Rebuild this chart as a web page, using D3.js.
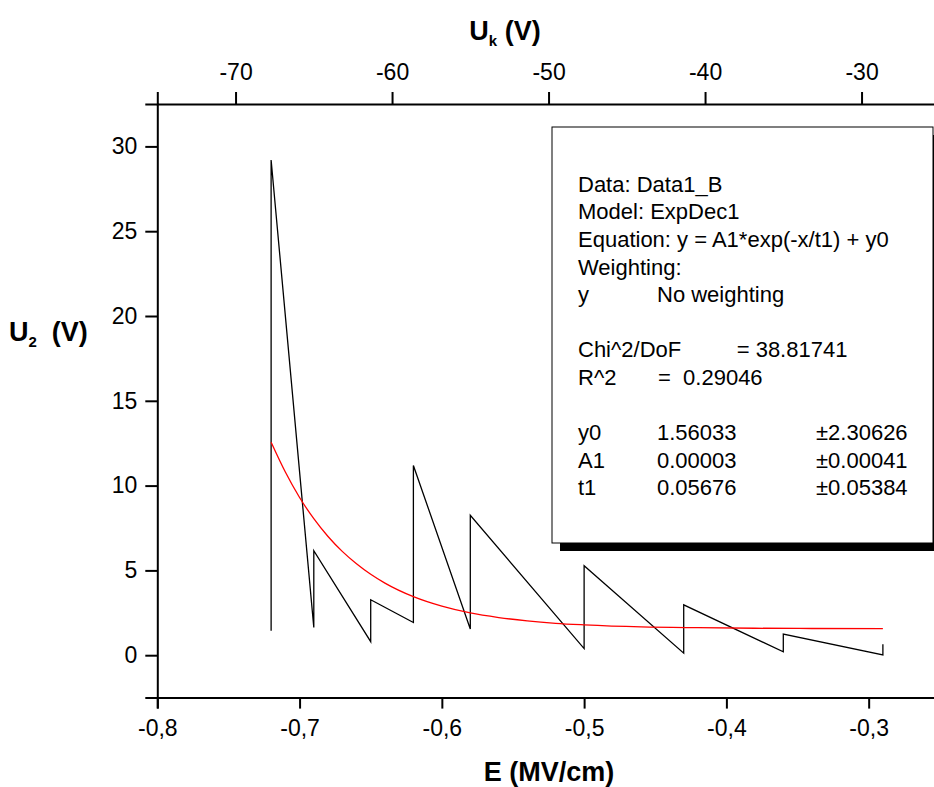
<!DOCTYPE html>
<html>
<head>
<meta charset="utf-8">
<script src="https://cdn.jsdelivr.net/npm/d3@7"></script>
<style>
  html, body { margin: 0; padding: 0; background: #fff; }
  svg { display: block; }
  text { font-family: "Liberation Sans", Arial, Helvetica, sans-serif; }
</style>
</head>
<body>
<script>
// ---- data ----
const fieldE = [-0.72, -0.72, -0.69, -0.69, -0.65, -0.65, -0.62, -0.62, -0.58, -0.58, -0.50, -0.50, -0.43, -0.43, -0.36, -0.36, -0.29, -0.29];
const voltageU2 = [1.44, 29.2, 1.63, 6.16, 0.80, 3.27, 1.93, 11.19, 1.54, 8.25, 0.39, 5.28, 0.12, 2.97, 0.20, 1.24, 0.02, 0.65];

// fitted ExpDec1 curve
const fitE = [-0.72, -0.71, -0.70, -0.69, -0.68, -0.67, -0.66, -0.65, -0.64, -0.62, -0.60, -0.58, -0.56, -0.54, -0.52, -0.50, -0.46, -0.42, -0.38, -0.34, -0.29];
const fitU = [12.56, 10.8, 9.30, 8.05, 7.0, 6.12, 5.39, 4.77, 4.25, 3.45, 2.89, 2.49, 2.22, 2.02, 1.88, 1.79, 1.67, 1.62, 1.59, 1.575, 1.565];

const bottomMajorTicks = [-0.8, -0.7, -0.6, -0.5, -0.4, -0.3];
const bottomMinorTicks = [-0.75, -0.65, -0.55, -0.45, -0.35, -0.25];
const leftMajorTicks = [0, 5, 10, 15, 20, 25, 30];
const leftMinorTicks = [-2.5, 2.5, 7.5, 12.5, 17.5, 22.5, 27.5, 32.5];
const topMajorTicks = [-70, -60, -50, -40, -30];
const topMinorTicks = [-75, -65, -55, -45, -35, -25];

const legendRows = [
  ["Data: Data1_B"],
  ["Model: ExpDec1"],
  ["Equation: y = A1*exp(-x/t1) + y0"],
  ["Weighting:"],
  ["y", "No weighting"],
  [],
  ["Chi^2/DoF", "= 38.81741"],
  ["R^2", "=  0.29046"],
  [],
  ["y0", "1.56033", "±2.30626"],
  ["A1", "0.00003", "±0.00041"],
  ["t1", "0.05676", "±0.05384"]
];

// ---- layout ----
const W = 934, H = 787;
const svg = d3.select("body").append("svg").attr("width", W).attr("height", H);
svg.append("rect").attr("width", W).attr("height", H).attr("fill", "#fff");

const x = d3.scaleLinear().domain([-0.8, -0.25]).range([157.3, 939.8]);
const xTop = d3.scaleLinear().domain([-75, -25]).range([157.3, 939.8]);
const y = d3.scaleLinear().domain([-2.5, 32.5]).range([697.6, 104]);

const commaFmt = d => d3.format(".1f")(d).replace("−", "-").replace(".", ",");

function styleAxis(g) {
  g.select(".domain").attr("stroke", "#000").attr("stroke-width", 2);
  g.selectAll(".tick line").attr("stroke", "#000").attr("stroke-width", 2);
  g.selectAll("text").attr("fill", "#000").attr("font-size", 23);
}

// bottom axis
const gB = svg.append("g").attr("transform", `translate(0,${y(-2.5)})`);
gB.call(d3.axisBottom(x).tickValues(bottomMinorTicks).tickSize(6).tickFormat(""));
gB.call(d3.axisBottom(x).tickValues(bottomMajorTicks).tickSize(11).tickPadding(11).tickFormat(commaFmt));
styleAxis(gB);

// left axis
const gL = svg.append("g").attr("transform", `translate(${x(-0.8)},0)`);
gL.call(d3.axisLeft(y).tickValues(leftMinorTicks).tickSize(6).tickFormat(""));
gL.call(d3.axisLeft(y).tickValues(leftMajorTicks).tickSize(12).tickPadding(8).tickFormat(d3.format("d")));
styleAxis(gL);

// top axis
const gT = svg.append("g").attr("transform", `translate(0,${y(32.5)})`);
gT.call(d3.axisTop(xTop).tickValues(topMinorTicks).tickSize(6).tickFormat(""));
gT.call(d3.axisTop(xTop).tickValues(topMajorTicks).tickSize(12).tickPadding(12).tickFormat(d => String(d)));
styleAxis(gT);

// clip plot area
svg.append("clipPath").attr("id", "clip").append("rect")
  .attr("x", x(-0.8)).attr("y", y(32.5)).attr("width", x(-0.25) - x(-0.8)).attr("height", y(-2.5) - y(32.5));

const plot = svg.append("g").attr("clip-path", "url(#clip)");

// legend / fit box (with shadow)
const boxX = 552, boxY = 127, boxW = 381, boxH = 416, sh = 8;
plot.append("rect").attr("x", boxX + sh).attr("y", boxY + sh).attr("width", boxW).attr("height", boxH).attr("fill", "#000");
plot.append("rect").attr("x", boxX).attr("y", boxY).attr("width", boxW).attr("height", boxH)
  .attr("fill", "#fff").attr("stroke", "#000").attr("stroke-width", 1);

// data line
const line = d3.line().x((d, i) => x(fieldE[i])).y(d => y(d));
plot.append("path").datum(voltageU2).attr("d", line)
  .attr("fill", "none").attr("stroke", "#000").attr("stroke-width", 1.3).attr("stroke-linejoin", "miter");

// fit curve
const fitLine = d3.line().x((d, i) => x(fitE[i])).y(d => y(d)).curve(d3.curveMonotoneX);
plot.append("path").datum(fitU).attr("d", fitLine)
  .attr("fill", "none").attr("stroke", "#ff0000").attr("stroke-width", 1.3);

// legend text
const colX = [578, 657, 816];
const lt = svg.append("g").attr("font-size", 22).attr("fill", "#000");
let baseY = 191.7;
const lineH = 27.6;
legendRows.forEach((row, i) => {
  const yy = baseY + i * lineH;
  if (row.length === 1) {
    lt.append("text").attr("x", colX[0]).attr("y", yy).text(row[0]);
  } else if (row.length === 2) {
    let cx = colX[1];
    if (row[0] === "Chi^2/DoF") cx = 736.7;
    if (row[0] === "R^2") cx = 658;
    lt.append("text").attr("x", colX[0]).attr("y", yy).text(row[0]);
    lt.append("text").attr("x", cx).attr("y", yy).style("white-space", "pre").text(row[1]);
  } else if (row.length === 3) {
    row.forEach((t, j) => lt.append("text").attr("x", colX[j]).attr("y", yy).text(t));
  }
});

// axis titles
svg.append("text").attr("x", 549).attr("y", 781).attr("text-anchor", "middle")
  .attr("font-size", 27).attr("font-weight", "bold").text("E (MV/cm)");

const topTitle = svg.append("text").attr("x", 505).attr("y", 40).attr("text-anchor", "middle")
  .attr("font-size", 27).attr("font-weight", "bold");
topTitle.append("tspan").text("U");
topTitle.append("tspan").attr("font-size", 15).attr("dy", 6).text("k");
topTitle.append("tspan").attr("dy", -6).text(" (V)");

const leftTitle = svg.append("text").attr("x", 9).attr("y", 341)
  .attr("font-size", 27).attr("font-weight", "bold").style("white-space", "pre");
leftTitle.append("tspan").text("U");
leftTitle.append("tspan").attr("font-size", 15).attr("dy", 6).text("2");
leftTitle.append("tspan").attr("dy", -6).text("  (V)");
</script>
</body>
</html>
